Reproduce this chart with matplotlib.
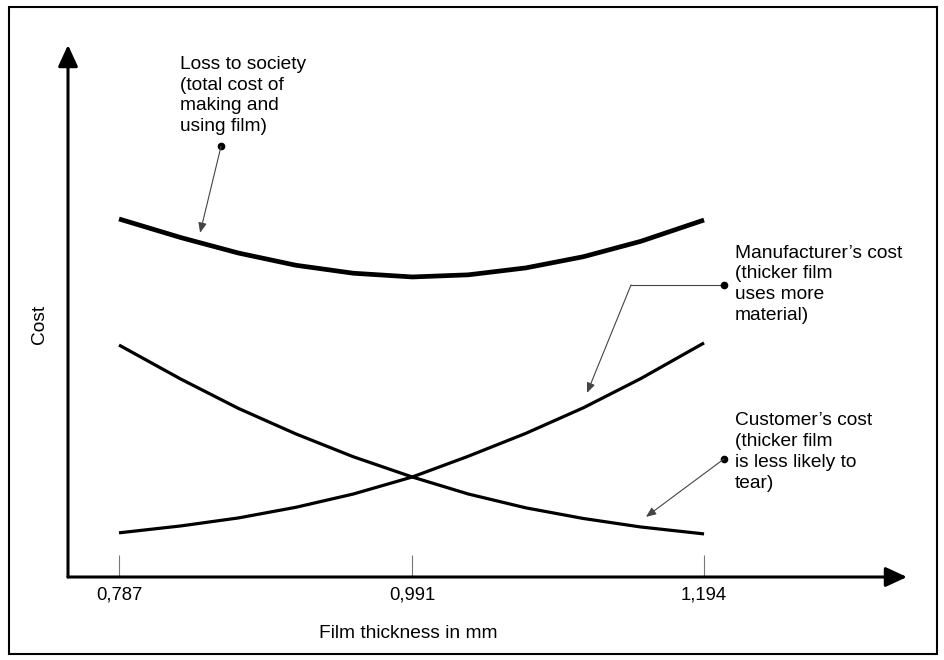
import matplotlib.pyplot as plt
from matplotlib.patches import Rectangle

plt.rcParams['font.family'] = ['Liberation Sans', 'DejaVu Sans']

# film thickness (mm) and the three cost curves (arbitrary cost units)
thickness = [0.787, 0.83, 0.87, 0.91, 0.95, 0.991, 1.03, 1.07, 1.11, 1.15, 1.194]
loss_to_society = [67.3, 63.8, 60.9, 58.6, 57.1, 56.4, 56.8, 58.1, 60.2, 63.1, 67.1]
manufacturer_cost = [8.3, 9.6, 11.1, 13.1, 15.6, 18.8, 22.7, 27.0, 31.8, 37.3, 44.0]
customer_cost = [43.6, 37.2, 31.7, 26.9, 22.6, 18.8, 15.6, 13.0, 11.0, 9.4, 8.1]

tick_values = [0.787, 0.991, 1.194]
tick_labels = ['0,787', '0,991', '1,194']

loss_label = 'Loss to society\n(total cost of\nmaking and\nusing film)'
manuf_label = "Manufacturer\u2019s cost\n(thicker film\nuses more\nmaterial)"
cust_label = "Customer\u2019s cost\n(thicker film\nis less likely to\ntear)"

W, H = 945, 660
fig = plt.figure(figsize=(W / 100, H / 100), dpi=100)

# outer frame
fig.patches.append(Rectangle((9 / W, 1 - 654 / H), 928 / W, 647 / H,
                             transform=fig.transFigure, fill=False,
                             lw=1.5, ec='black'))

ax = fig.add_axes([68 / W, 1 - 577 / H, 839 / W, 532 / H])
ax.patch.set_alpha(0)
ax.set_xlim(0.7515, 1.3352)
ax.set_ylim(0, 100)
for s in ax.spines.values():
    s.set_visible(False)

# axis lines with arrow heads
axis_arrow = dict(arrowstyle='-|>,head_length=1.3,head_width=0.6',
                  lw=2.2, color='black', shrinkA=0, shrinkB=0)
ax.annotate('', xy=(1, 0), xytext=(0, 0), xycoords='axes fraction',
            arrowprops=axis_arrow, annotation_clip=False)
ax.annotate('', xy=(0, 1), xytext=(0, 0), xycoords='axes fraction',
            arrowprops=axis_arrow, annotation_clip=False)

ax.set_xticks(tick_values, tick_labels, fontsize=13.3)
ax.tick_params(axis='x', direction='in', length=15.8, width=0.8,
               color='#777777', pad=7)
ax.set_yticks([])

ax.plot(thickness, loss_to_society, color='black', lw=3.4,
        solid_capstyle='butt', solid_joinstyle='round')
ax.plot(thickness, manufacturer_cost, color='black', lw=2.3,
        solid_capstyle='butt', solid_joinstyle='round')
ax.plot(thickness, customer_cost, color='black', lw=2.3,
        solid_capstyle='butt', solid_joinstyle='round')

fig.text(408 / W, 1 - 634 / H, 'Film thickness in mm', fontsize=13.8,
         ha='center', va='center')
fig.text(40 / W, 1 - 324 / H, 'Cost', fontsize=13.8, rotation=90,
         ha='center', va='center')

# callouts
lead = dict(arrowstyle='-|>,head_length=0.6,head_width=0.25',
            lw=0.8, color='#444444', shrinkA=0, shrinkB=0)
txt = dict(fontsize=13.8, ha='left', va='top', linespacing=1.3)

ax.text(0.8294, 98.0, loss_label, **txt)
ax.plot([0.858], [81.0], 'o', color='black', ms=4.5)
ax.annotate('', xy=(0.8434, 64.7), xytext=(0.858, 81.0), arrowprops=lead)

ax.text(1.2155, 62.5, manuf_label, **txt)
ax.plot([1.2079, 1.1432], [54.9, 54.9], color='#444444', lw=0.8)
ax.plot([1.2079], [54.9], 'o', color='black', ms=4.5)
ax.annotate('', xy=(1.1126, 34.6), xytext=(1.1432, 54.9), arrowprops=lead)

ax.text(1.2155, 31.0, cust_label, **txt)
ax.plot([1.2079], [22.2], 'o', color='black', ms=4.5)
ax.annotate('', xy=(1.1536, 11.3), xytext=(1.2079, 22.2), arrowprops=lead)

fig.savefig('out.png', dpi=100)
